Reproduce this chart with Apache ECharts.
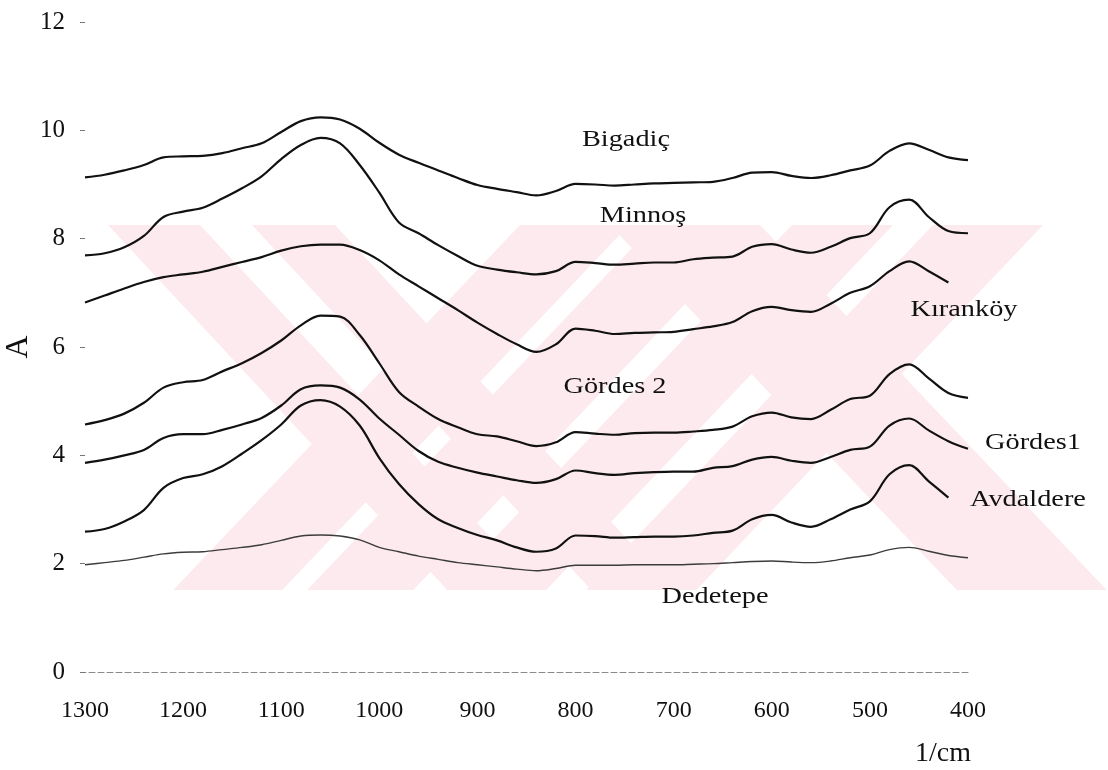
<!DOCTYPE html>
<html>
<head>
<meta charset="utf-8">
<script src="https://cdn.jsdelivr.net/npm/echarts@6/dist/echarts.min.js"></script>
<style>
html,body{margin:0;padding:0;background:#fff;}
#chart{width:1108px;height:770px;}
</style>
</head>
<body>
<div id="chart"></div>
<script>
// Wavenumbers (1/cm)
const wavenumbers = [1300,1280,1260,1240,1220,1200,1180,1160,1140,1120,1100,1080,1060,1040,1020,1000,980,960,940,920,900,880,860,840,820,800,780,760,740,720,700,680,660,640,620,600,580,560,540,520,500,480,460,440,420,400];

const bigadic   = [9.13,9.18,9.26,9.36,9.50,9.52,9.53,9.58,9.67,9.76,9.97,10.17,10.24,10.20,10.03,9.77,9.55,9.40,9.26,9.12,8.99,8.92,8.86,8.80,8.88,9.01,9.00,8.98,9.00,9.02,9.03,9.04,9.05,9.12,9.22,9.23,9.16,9.12,9.17,9.26,9.35,9.62,9.76,9.64,9.50,9.45];
const minnos    = [7.69,7.73,7.84,8.05,8.40,8.50,8.57,8.74,8.93,9.15,9.47,9.73,9.86,9.76,9.36,8.85,8.30,8.10,7.88,7.68,7.50,7.43,7.38,7.34,7.40,7.57,7.55,7.52,7.54,7.56,7.56,7.62,7.65,7.67,7.85,7.90,7.80,7.74,7.85,8.01,8.10,8.58,8.72,8.40,8.14,8.10];
const kirankoy  = [6.82,6.95,7.08,7.20,7.29,7.34,7.39,7.48,7.57,7.66,7.78,7.86,7.89,7.89,7.79,7.60,7.34,7.12,6.90,6.68,6.45,6.24,6.05,5.91,6.05,6.34,6.30,6.24,6.26,6.27,6.28,6.33,6.38,6.46,6.66,6.74,6.68,6.65,6.80,7.00,7.12,7.40,7.58,7.40,7.19,null];
const gordes2   = [4.57,4.65,4.77,4.97,5.25,5.35,5.39,5.55,5.70,5.89,6.12,6.40,6.58,6.56,6.22,5.70,5.17,4.90,4.67,4.52,4.39,4.35,4.26,4.17,4.24,4.43,4.40,4.38,4.41,4.42,4.42,4.44,4.47,4.53,4.72,4.79,4.70,4.67,4.84,5.04,5.10,5.50,5.68,5.42,5.15,5.06];
const gordes1   = [3.86,3.92,4.00,4.10,4.32,4.39,4.39,4.47,4.57,4.69,4.92,5.22,5.29,5.25,5.03,4.68,4.38,4.08,3.88,3.77,3.68,3.61,3.54,3.49,3.56,3.72,3.67,3.64,3.67,3.69,3.70,3.70,3.77,3.80,3.92,3.97,3.90,3.86,3.97,4.10,4.16,4.55,4.68,4.46,4.26,4.12];
const avdaldere = [2.59,2.64,2.78,2.99,3.40,3.58,3.65,3.80,4.03,4.28,4.57,4.92,5.02,4.90,4.55,3.95,3.47,3.10,2.82,2.66,2.53,2.43,2.30,2.22,2.28,2.52,2.51,2.48,2.49,2.50,2.50,2.52,2.57,2.61,2.82,2.90,2.76,2.68,2.82,3.00,3.15,3.65,3.82,3.52,3.22,null];
const dedetepe  = [1.98,2.02,2.06,2.12,2.18,2.21,2.22,2.26,2.30,2.35,2.43,2.51,2.53,2.51,2.44,2.30,2.22,2.14,2.08,2.02,1.98,1.94,1.90,1.87,1.91,1.97,1.97,1.97,1.98,1.98,1.98,1.99,2.00,2.02,2.04,2.05,2.03,2.02,2.05,2.11,2.16,2.26,2.30,2.23,2.15,2.11];

const seriesNames = ['Bigadiç','Minnoş','Kıranköy','Gördes 2','Gördes1','Avdaldere','Dedetepe'];
const seriesValues = [bigadic, minnos, kirankoy, gordes2, gordes1, avdaldere, dedetepe];
const xTicks = [1300,1200,1100,1000,900,800,700,600,500,400];
const yTicks = [0,2,4,6,8,10,12];

// ---- layout / styling (not data) ----
const FONT = '"Liberation Serif","Times New Roman",serif';
const labelPlaces = [[626,140],[643,216],[964,310],[615,387],[1033,443],[1028,500],[715,597]];

function pairs(vals){
  const out = [];
  for (let i = 0; i < wavenumbers.length; i++) {
    if (vals[i] !== null) out.push([wavenumbers[i], vals[i]]);
  }
  return out;
}

// watermark bands (background decoration)
const WM_TOP = 225, WM_BOT = 590;
const bands = [
  [108,200, 0.93],[252,335, 0.93],
  [520,629,-0.95],[654,760,-0.95],
  [792,893,-0.95],[933,1043,-0.95],
  [610,760, 0.95]
];
const wmGraphics = bands.map(b => {
  const d = b[2]*(WM_BOT-WM_TOP);
  return {
    type:'polygon', z:0, silent:true,
    shape:{points:[[b[0],WM_TOP],[b[1],WM_TOP],[b[1]+d,WM_BOT],[b[0]+d,WM_BOT]]},
    style:{fill:'#fdeaee'}
  };
});

const textGraphics = seriesNames.map((n,i) => ({
  type:'text', z:100, x:labelPlaces[i][0], y:labelPlaces[i][1], scaleX:1.18,
  style:{text:n, font:'24px ' + FONT, fill:'#111', textAlign:'center', textVerticalAlign:'middle'}
}));

const chart = echarts.init(document.getElementById('chart'));
chart.setOption({
  backgroundColor:'#ffffff',
  animation:false,
  grid:{left:85, right:140, top:22, bottom:98, containLabel:false, outerBoundsMode:'none'},
  xAxis:{
    type:'value', inverse:true, min:400, max:1300, interval:100,
    name:'1/cm', nameLocation:'start', nameGap:-25, nameMoveOverlap:false,
    nameTextStyle:{fontFamily:FONT, fontSize:28, color:'#111', align:'center', verticalAlign:'top', padding:[68,0,0,0]},
    axisLine:{show:true, onZero:false, lineStyle:{color:'#8a8a8a', width:1, type:[6,3]}},
    axisTick:{show:false},
    splitLine:{show:false},
    axisLabel:{fontFamily:FONT, fontSize:24, color:'#111', margin:27,
      formatter: v => xTicks.indexOf(v) >= 0 ? String(v) : ''}
  },
  yAxis:{
    type:'value', min:0, max:12, interval:2,
    name:'A', nameLocation:'middle', nameGap:50, nameRotate:90, nameMoveOverlap:false,
    nameTextStyle:{fontFamily:FONT, fontSize:32, color:'#111'},
    axisLine:{show:false},
    axisTick:{show:true, length:5, lineStyle:{color:'#777'}},
    splitLine:{show:false},
    axisLabel:{fontFamily:FONT, fontSize:25, color:'#111', margin:20,
      formatter: v => yTicks.indexOf(v) >= 0 ? String(v) : ''}
  },
  graphic: wmGraphics.concat(textGraphics),
  series: seriesNames.map((n,i) => ({
    name:n, type:'line', data:pairs(seriesValues[i]),
    showSymbol:false, smooth:0.35, z:5,
    lineStyle: i === 6 ? {color:'#3c3c3c', width:1.4} : {color:'#111', width:2.2}
  }))
});
</script>
</body>
</html>
